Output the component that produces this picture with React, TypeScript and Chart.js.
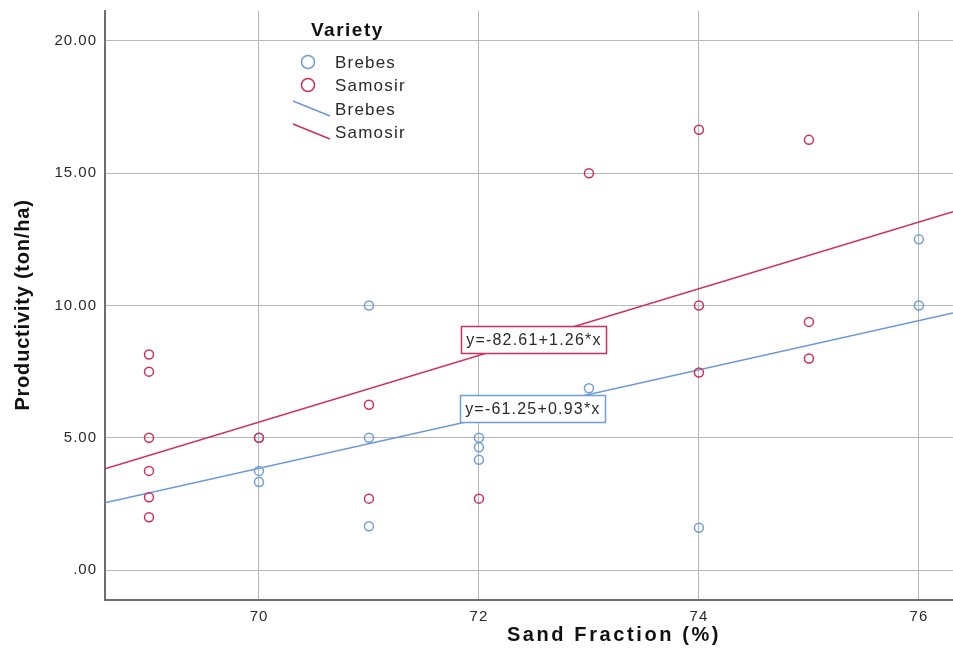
import React, { useEffect, useRef } from 'react';
import { Chart, registerables } from 'chart.js';

Chart.register(...registerables);

// ---- data ----
const X_TICKS = [70, 72, 74, 76];
const Y_TICKS = [0, 5, 10, 15, 20];
const X_MIN = 68.6;
const X_MAX = 76.31;
const Y_MIN = -1.13;
const Y_MAX = 21.13;

const brebesX = [70, 70, 70, 71, 71, 71, 72, 72, 72, 73, 74, 76, 76];
const brebesY = [5.0, 3.75, 3.33, 10.0, 5.0, 1.66, 5.0, 4.64, 4.17, 6.87, 1.6, 12.5, 10.0];

const samosirX = [69, 69, 69, 69, 69, 69, 70, 71, 71, 72, 73, 74, 74, 74, 75, 75, 75];
const samosirY = [8.15, 7.5, 5.0, 3.75, 2.75, 2.0, 5.0, 6.25, 2.7, 2.7, 15.0, 16.64, 10.0, 7.47, 16.26, 9.38, 8.0];

const brebesFit = { intercept: -61.25, slope: 0.93 };
const samosirFit = { intercept: -82.61, slope: 1.26 };
const brebesEq = 'y=-61.25+0.93*x';
const samosirEq = 'y=-82.61+1.26*x';

const SERIES = ['Brebes', 'Samosir'];
const LEGEND_TITLE = 'Variety';
const X_TITLE = 'Sand Fraction (%)';
const Y_TITLE = 'Productivity (ton/ha)';

// ---- styles ----
const BLUE = '#6f9fd8';
const BLUE_LINE = '#6a9ad6';
const RED = '#cf2f58';
const FONT = '"Liberation Sans", Arial, sans-serif';
const GRID = '#b8b8b8';
const AXIS = '#6e6e6e';
const TEXT = '#2a2a2a';

// label anchors (data coords)
const SAM_LABEL_AT = [72.5, 8.72];
const BRE_LABEL_AT = [72.49, 6.11];

function pts(xs: number[], ys: number[]) {
  return xs.map((x, i) => ({ x, y: ys[i] }));
}
function fitLine(f: { intercept: number; slope: number }) {
  return [X_MIN, X_MAX].map((x) => ({ x, y: f.intercept + f.slope * x }));
}

function drawEqBox(ctx: CanvasRenderingContext2D, cx: number, cy: number, text: string, color: string) {
  ctx.save();
  ctx.font = `16px ${FONT}`;
  (ctx as any).letterSpacing = '1.2px';
  const w = 145;
  const h = 27;
  const x0 = Math.round(cx - w / 2) + 0.5;
  const y0 = Math.round(cy - h / 2) + 0.5;
  ctx.fillStyle = '#ffffff';
  ctx.fillRect(x0, y0, w, h);
  ctx.strokeStyle = color;
  ctx.lineWidth = 1.5;
  ctx.strokeRect(x0, y0, w, h);
  ctx.fillStyle = TEXT;
  ctx.textAlign = 'center';
  ctx.textBaseline = 'middle';
  ctx.fillText(text, cx, cy + 1);
  ctx.restore();
}

const overlay = {
  id: 'overlay',
  beforeDraw(chart: any) {
    (chart.ctx as any).letterSpacing = '1px';
  },
  afterDatasetsDraw(chart: any) {
    const { ctx, scales } = chart;
    const x = scales.x;
    const y = scales.y;
    drawEqBox(ctx, x.getPixelForValue(SAM_LABEL_AT[0]), y.getPixelForValue(SAM_LABEL_AT[1]), samosirEq, RED);
    drawEqBox(ctx, x.getPixelForValue(BRE_LABEL_AT[0]), y.getPixelForValue(BRE_LABEL_AT[1]), brebesEq, BLUE);
  },
  afterDraw(chart: any) {
    const ctx: CanvasRenderingContext2D = chart.ctx;
    ctx.save();
    // legend title
    ctx.fillStyle = '#111';
    ctx.font = `bold 19px ${FONT}`;
    (ctx as any).letterSpacing = '1.5px';
    ctx.textAlign = 'left';
    ctx.textBaseline = 'middle';
    ctx.fillText(LEGEND_TITLE, 311, 31);
    // legend items
    ctx.font = `17px ${FONT}`;
    (ctx as any).letterSpacing = '1.2px';
    ctx.fillStyle = TEXT;
    const rows = [
      { kind: 'pt', color: BLUE, label: SERIES[0], y: 62 },
      { kind: 'pt', color: RED, label: SERIES[1], y: 85 },
      { kind: 'ln', color: BLUE_LINE, label: SERIES[0], y: 109 },
      { kind: 'ln', color: RED, label: SERIES[1], y: 132 },
    ];
    rows.forEach((r) => {
      ctx.strokeStyle = r.color;
      ctx.lineWidth = 1.5;
      if (r.kind === 'pt') {
        ctx.beginPath();
        ctx.arc(308, r.y, 6.5, 0, Math.PI * 2);
        ctx.stroke();
      } else {
        ctx.beginPath();
        ctx.moveTo(293, r.y - 8);
        ctx.lineTo(330, r.y + 7);
        ctx.stroke();
      }
      ctx.fillStyle = TEXT;
      ctx.fillText(r.label, 335, r.y + 1);
    });
    // axis titles
    ctx.fillStyle = '#111';
    ctx.font = `bold 20px ${FONT}`;
    (ctx as any).letterSpacing = '2.6px';
    ctx.textAlign = 'center';
    ctx.fillText(X_TITLE, 614, 635);
    (ctx as any).letterSpacing = '0.8px';
    ctx.translate(23, 305);
    ctx.rotate(-Math.PI / 2);
    ctx.fillText(Y_TITLE, 0, 0);
    ctx.restore();
  },
};

function zeroPad(s: any) {
  s.paddingTop = 0;
  s.paddingBottom = 0;
  s.paddingLeft = 0;
  s.paddingRight = 0;
}

export default function App() {
  const ref = useRef<HTMLCanvasElement | null>(null);
  useEffect(() => {
    document.body.style.margin = '0';
    const canvas = ref.current;
    if (!canvas) return;
    const chart = new Chart(canvas, {
      type: 'scatter',
      data: {
        datasets: [
          {
            label: SERIES[0] + ' fit',
            data: fitLine(brebesFit),
            showLine: true,
            borderColor: BLUE_LINE,
            borderWidth: 1.5,
            pointRadius: 0,
            order: 3,
          },
          {
            label: SERIES[1] + ' fit',
            data: fitLine(samosirFit),
            showLine: true,
            borderColor: RED,
            borderWidth: 1.5,
            pointRadius: 0,
            order: 3,
          },
          {
            label: SERIES[0],
            data: pts(brebesX, brebesY),
            pointStyle: 'circle',
            pointRadius: 4.5,
            borderWidth: 1.5,
            borderColor: BLUE,
            backgroundColor: 'rgba(0,0,0,0)',
            order: 2,
          },
          {
            label: SERIES[1],
            data: pts(samosirX, samosirY),
            pointStyle: 'circle',
            pointRadius: 4.5,
            borderWidth: 1.5,
            borderColor: RED,
            backgroundColor: 'rgba(0,0,0,0)',
            order: 1,
          },
        ],
      },
      options: {
        animation: false,
        responsive: false,
        maintainAspectRatio: false,
        layout: { padding: { top: 11, left: 0, right: 0, bottom: 0 } },
        plugins: {
          legend: { display: false },
          tooltip: { enabled: false },
        },
        scales: {
          x: {
            type: 'linear',
            min: X_MIN,
            max: X_MAX,
            afterBuildTicks: (s: any) => {
              s.ticks = X_TICKS.map((v) => ({ value: v }));
            },
            afterFit: (s: any) => {
              s.height = 64;
              zeroPad(s);
            },
            grid: { color: GRID, lineWidth: 1, drawTicks: false },
            border: { color: AXIS, width: 2 },
            ticks: {
              padding: 8,
              color: TEXT,
              font: { family: FONT, size: 15 },
              callback: (v: any) => String(v),
            },
          },
          y: {
            type: 'linear',
            min: Y_MIN,
            max: Y_MAX,
            afterBuildTicks: (s: any) => {
              s.ticks = Y_TICKS.map((v) => ({ value: v }));
            },
            afterFit: (s: any) => {
              s.width = 105;
              zeroPad(s);
            },
            grid: { color: GRID, lineWidth: 1, drawTicks: false },
            border: { color: AXIS, width: 2 },
            ticks: {
              padding: 8,
              color: TEXT,
              font: { family: FONT, size: 15 },
              callback: (v: any) => (v === 0 ? '.00' : Number(v).toFixed(2)),
            },
          },
        },
      },
      plugins: [overlay],
    } as any);
    return () => chart.destroy();
  }, []);
  return (
    <div style={{ position: 'absolute', left: 0, top: 0, width: 953, height: 664, overflow: 'hidden', background: '#fff' }}>
      <canvas ref={ref} width={959} height={664} style={{ width: 959, height: 664, display: 'block' }} />
    </div>
  );
}
